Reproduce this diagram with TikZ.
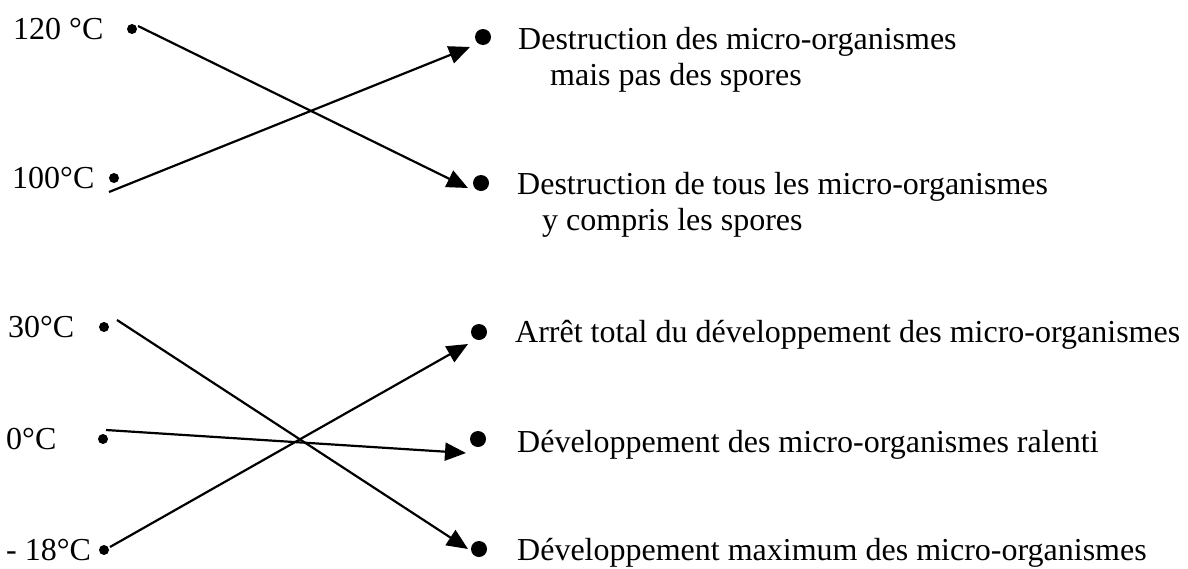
\documentclass[tikz,border=0pt]{standalone}
\usepackage{fontspec}
\setmainfont{Liberation Serif}
\usetikzlibrary{arrows.meta}
\begin{document}
\begin{tikzpicture}[x=1pt,y=-1pt,
  lbl/.style={anchor=base west, inner sep=0pt, font=\fontsize{32}{37}\selectfont},
  sdot/.style={circle, fill=black, inner sep=0pt, minimum size=10pt},
  bdot/.style={circle, fill=black, inner sep=0pt, minimum size=16pt},
  link/.style={line width=2.2pt, -{Triangle[length=21pt,width=18pt]}}]
\path[use as bounding box] (0,0) rectangle (1188,568);

% left labels
\node[lbl] (t120) at (13,39) {120 °C};
\node[lbl] (t100) at (12,188) {100°C};
\node[lbl] (t30) at (8,337) {30°C};
\node[lbl] (t0) at (6,449) {0°C};
\node[lbl] (tm18) at (6,560) {- 18°C};

% left dots
\node[sdot] (d120) at (132,29) {};
\node[sdot] (d100) at (114,178) {};
\node[sdot] (d30) at (104,327) {};
\node[sdot] (d0) at (103,439) {};
\node[sdot] (dm18) at (104,550) {};

% right dots
\node[bdot] (r1) at (483,37) {};
\node[bdot] (r2) at (481,183) {};
\node[bdot] (r3) at (479,332) {};
\node[bdot] (r4) at (478,439) {};
\node[bdot] (r5) at (479,549) {};

% right labels
\node[lbl] (l1a) at (518,49) {Destruction des micro-organismes};
\node[lbl] (l1b) at (550,85) {mais pas des spores};
\node[lbl] (l2a) at (517,194) {Destruction de tous les micro-organismes};
\node[lbl] (l2b) at (542,230) {y compris les spores};
\node[lbl] (l3) at (515,342) {Arrêt total du développement des micro-organismes};
\node[lbl] (l4) at (517,452) {Développement des micro-organismes ralenti};
\node[lbl] (l5) at (517,560) {Développement maximum des micro-organismes};

% line ends
\coordinate (s120) at (138,26);
\coordinate (s100) at (109,192);
\coordinate (s30) at (117,320);
\coordinate (s0) at (106,430);
\coordinate (sm18) at (110,547);
\coordinate (e1) at (470,47);
\coordinate (e2) at (468,188);
\coordinate (e3) at (468,344);
\coordinate (e4) at (466,453);
\coordinate (e5) at (468,549);

% connectors
\draw[link] (s120) -- (e2);
\draw[link] (s100) -- (e1);
\draw[link] (s30) -- (e5);
\draw[link] (s0) -- (e4);
\draw[link] (sm18) -- (e3);
\end{tikzpicture}
\end{document}
